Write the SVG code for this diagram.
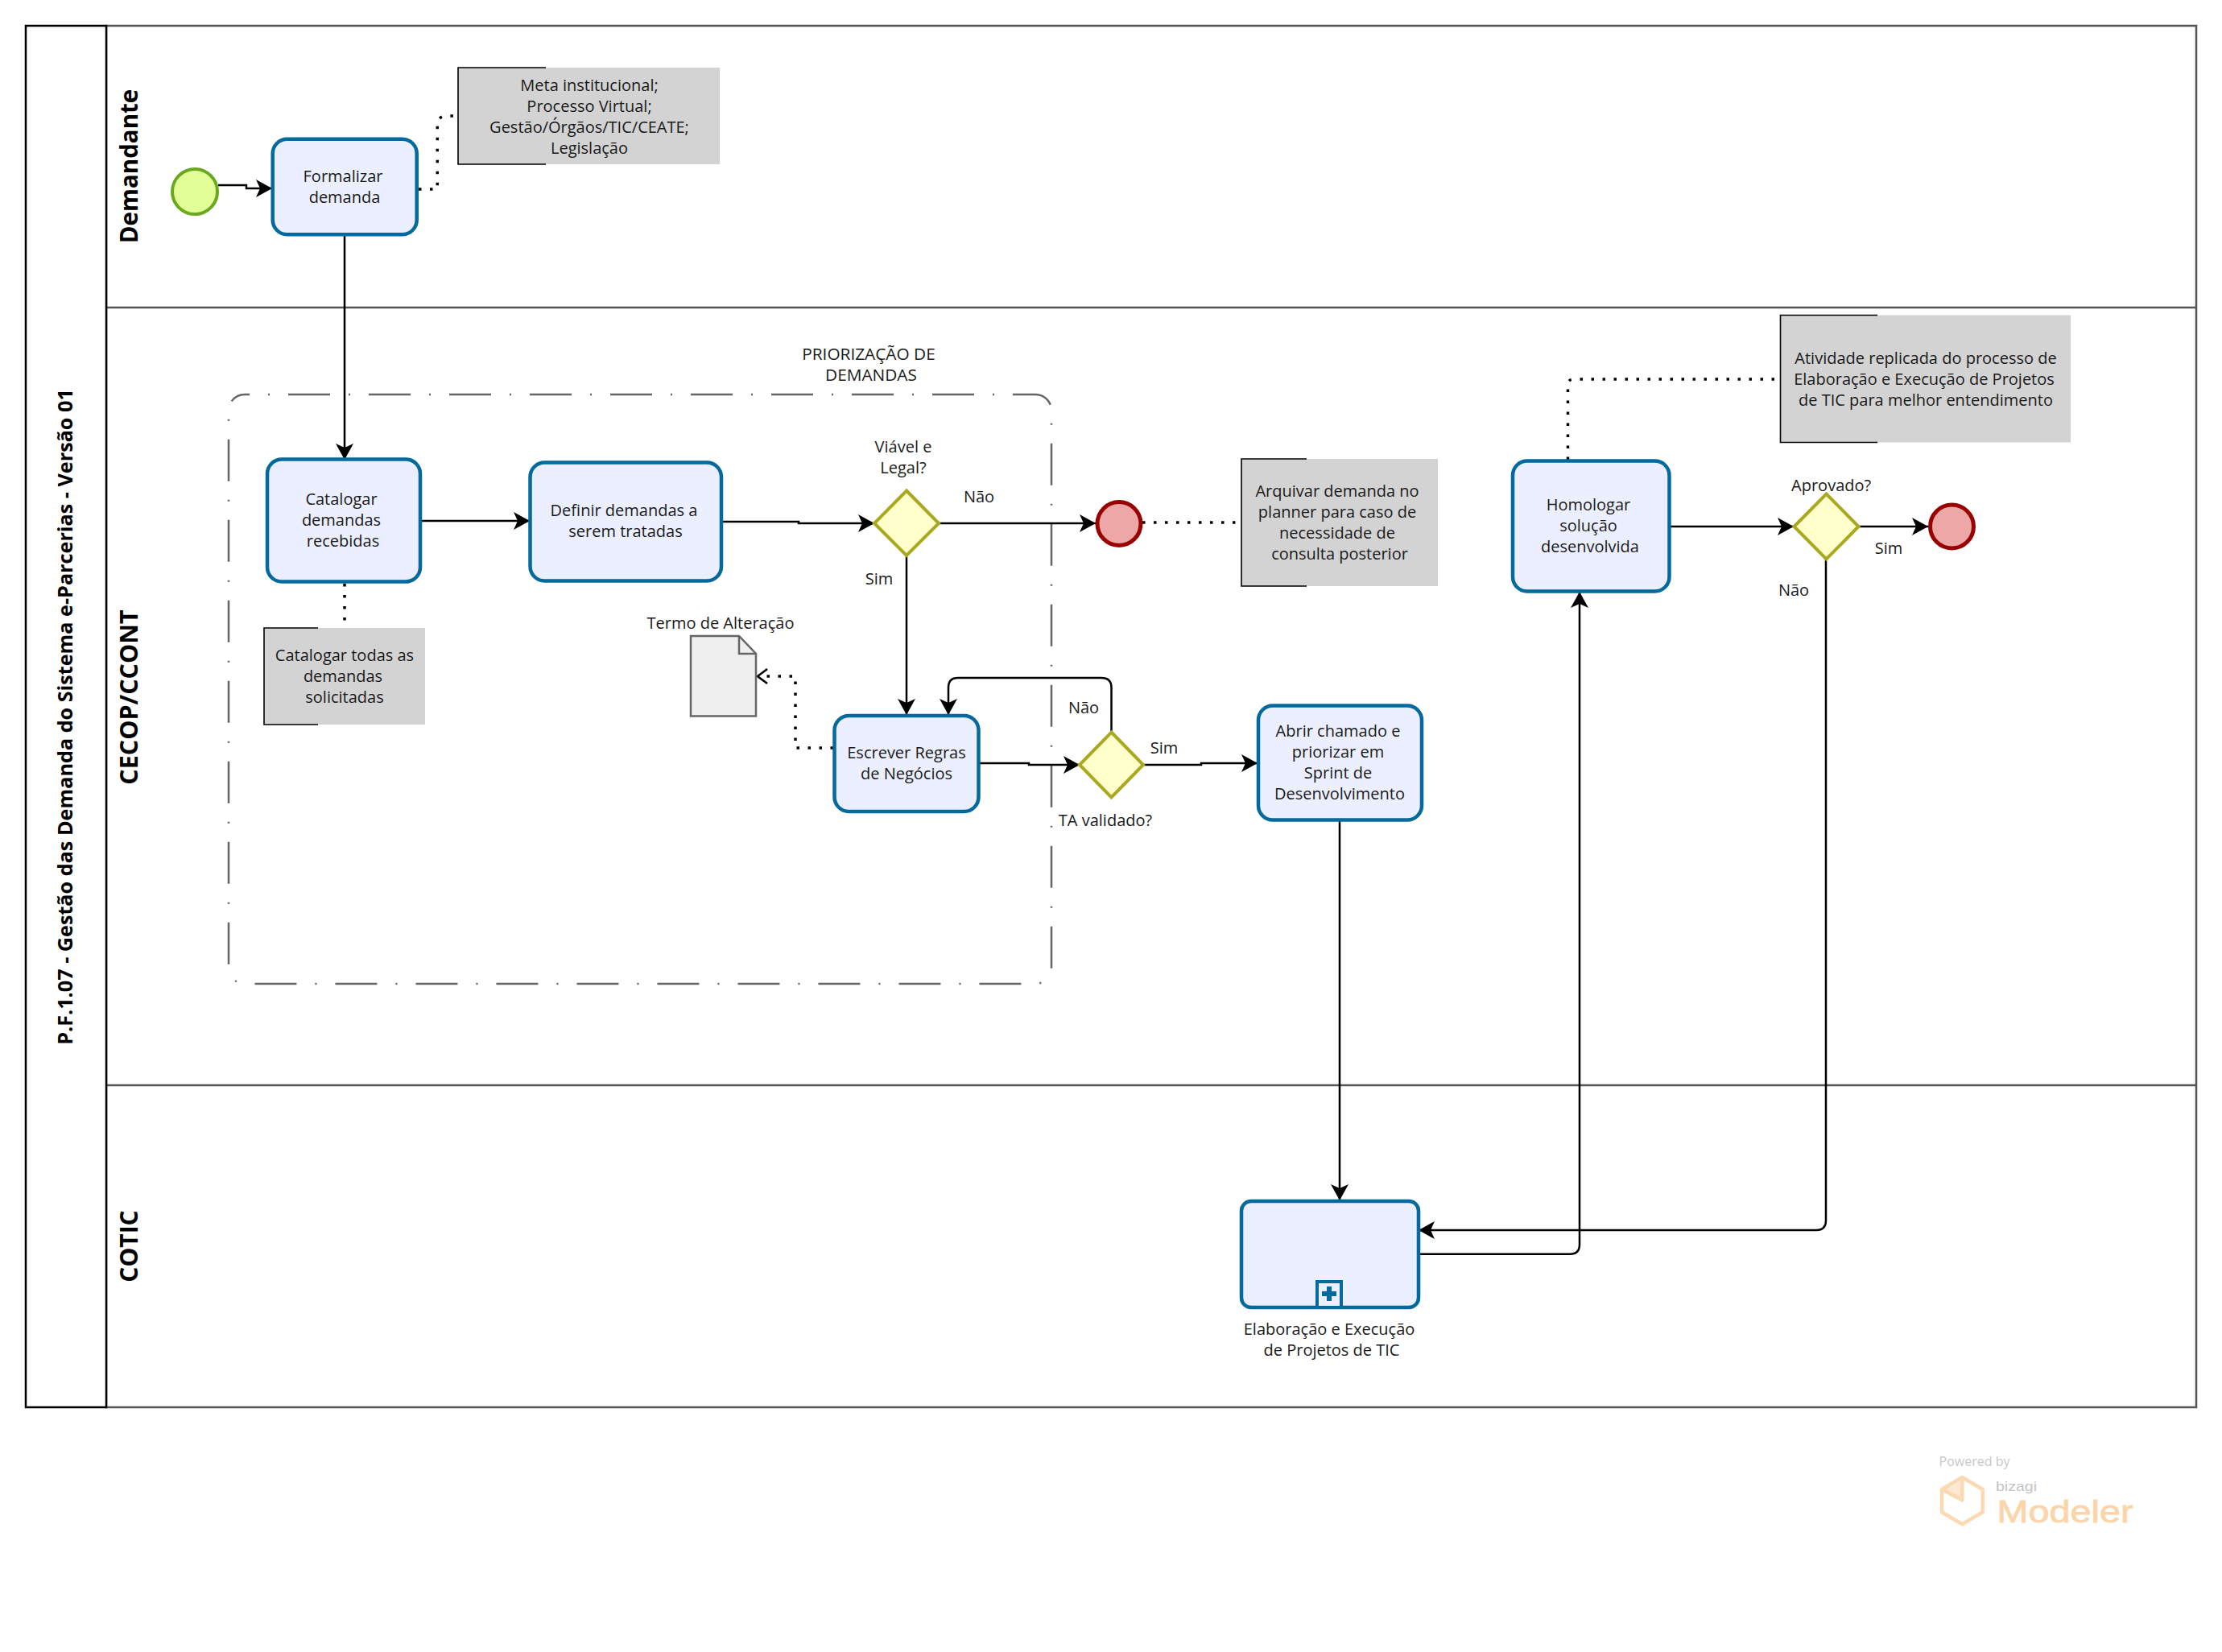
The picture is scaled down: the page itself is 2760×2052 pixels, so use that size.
<svg xmlns="http://www.w3.org/2000/svg" width="2760" height="2052" viewBox="0 0 2760 2052">
<style>
text{font-family:"Open Sans","Noto Sans","Liberation Sans",sans-serif;font-size:20px;fill:#1a1a1a;text-anchor:middle}
.b{font-weight:700;fill:#000}
.lane{font-size:30px}
.title{font-size:25.2px}
.task{fill:#ebefff;stroke:#04699d;stroke-width:4.5}
.gw{fill:#ffffcc;stroke:#a9a91f;stroke-width:4}
.end{fill:#eda7a7;stroke:#990000;stroke-width:5}
.note{fill:#d3d3d3}
.nb{stroke:#000;stroke-width:1.6;fill:none}
.c{fill:none;stroke:#000;stroke-width:2.5;marker-end:url(#arr)}
.d{fill:none;stroke:#000;stroke-width:3.5;stroke-dasharray:3.5 10.5}
.ln{fill:none;stroke:#555;stroke-width:2.5}
</style>
<defs>
<marker id="arr" markerUnits="userSpaceOnUse" markerWidth="22" markerHeight="26" refX="20" refY="13" orient="auto"><path d="M0,2 L20,13 L0,24 L5,13 Z" fill="#000"/></marker>
<marker id="open" markerUnits="userSpaceOnUse" markerWidth="16" markerHeight="24" refX="14" refY="12" orient="auto"><path d="M2,3 L14,12 L2,21" fill="none" stroke="#000" stroke-width="2.6"/></marker>
</defs>
<rect width="2760" height="2052" fill="#fff"/>
<g id="pool">
<rect x="132" y="32" width="2596" height="1716" class="ln"/>
<path d="M132,382 H2728 M132,1348 H2728" class="ln"/>
<rect x="32" y="32" width="100" height="1716" fill="#fff" stroke="#000" stroke-width="2.500"/>
<text class="b title" transform="translate(89.500 890.500) rotate(-90)">P.F.1.07 - Gestão das Demanda do Sistema e-Parcerias - Versão 01</text>
<text class="b lane" style="font-size:29.500px" transform="translate(171 206.500) rotate(-90)">Demandante</text>
<text class="b lane" style="font-size:30.500px" transform="translate(171 866) rotate(-90)">CECOP/CCONT</text>
<text class="b lane" transform="translate(171 1548) rotate(-90)">COTIC</text>
</g>
<g id="group-priorizacao">
<rect x="284" y="490" width="1022" height="732" rx="20" fill="none" stroke="#666" stroke-width="2.500" stroke-dasharray="52 23 2 23" stroke-dashoffset="-54"/>
<text x="1079" y="447" style="font-size:20.800px">PRIORIZAÇÃO DE</text>
<text x="1082" y="473" style="font-size:20.800px">DEMANDAS</text>
</g>
<g id="connectors">
<path class="c" d="M271,230 H306 V234 H338"/>
<path class="c" d="M428,293 V571"/>
<path class="c" d="M522,647 H658"/>
<path class="c" d="M897,648 H992 V650 H1086"/>
<path class="c" d="M1166,650 H1361"/>
<path class="c" d="M1126,690 V888"/>
<path class="c" d="M1216,948 H1278 V950 H1341"/>
<path class="c" d="M1420,950 H1492 V948 H1562"/>
<path class="c" d="M1380.500,909 V854 Q1380.500,842 1368,842 H1190 Q1178,842 1178,854 V888"/>
<path class="c" d="M1664,1019 V1491"/>
<path class="c" d="M1762,1557.700 H1950 Q1962,1557.700 1962,1546 V735"/>
<path class="c" d="M2074,654 H2228"/>
<path class="c" d="M2309,654 H2395"/>
<path class="c" d="M2268,695 V1516 Q2268,1528 2256,1528 H1762"/>
<path class="d" d="M520,235 H543.300 V155 Q543.300,144 555,144 H566"/>
<path class="d" d="M428,725 V775"/>
<path class="d" d="M1419,649 H1540"/>
<path class="d" d="M1947.500,571 V478 Q1947.500,471 1955,471 H2208"/>
<path class="d" style="marker-end:url(#open)" d="M1035,929 H988 V840 H941"/>
</g>
<g id="start"><circle cx="242" cy="238" r="28" fill="#e1ff96" stroke="#6aa81f" stroke-width="4"/></g>
<g id="formalizar"><rect class="task" x="338.700" y="172.700" width="179" height="118.600" rx="18"/><text x="426" y="226">Formalizar</text><text x="428" y="252">demanda</text></g>
<g id="note-meta"><rect class="note" x="569" y="84" width="325" height="120"/><path class="nb" d="M678,84 H569 V204 H678"/><text x="732" y="113">Meta institucional;</text><text x="732" y="139">Processo Virtual;</text><text x="732" y="165">Gestão/Órgãos/TIC/CEATE;</text><text x="732" y="191">Legislação</text></g>
<g id="catalogar"><rect class="task" x="332" y="570.500" width="190" height="152" rx="18"/><text x="424" y="627">Catalogar</text><text x="424" y="653">demandas</text><text x="426" y="679">recebidas</text></g>
<g id="note-catalogar"><rect class="note" x="328" y="780" width="200" height="120"/><path class="nb" d="M395,780 H328 V900 H395"/><text x="428" y="821">Catalogar todas as</text><text x="426" y="847">demandas</text><text x="428" y="873">solicitadas</text></g>
<g id="definir"><rect class="task" x="658.500" y="574.500" width="237.500" height="147" rx="18"/><text x="775" y="641">Definir demandas a</text><text x="777" y="667">serem tratadas</text></g>
<g id="gw-viavel"><polygon class="gw" points="1126,609.500 1166,650 1126,690 1086,650"/><text x="1122" y="562">Viável e</text><text x="1122" y="588">Legal?</text></g>
<text x="1216" y="624" id="lbl-nao1">Não</text>
<text x="1092" y="726" id="lbl-sim1">Sim</text>
<g id="end1"><circle class="end" cx="1390" cy="650.500" r="27"/></g>
<g id="note-arquivar"><rect class="note" x="1542" y="570" width="244" height="158"/><path class="nb" d="M1623,570 H1542 V728 H1623"/><text x="1661" y="617">Arquivar demanda no</text><text x="1661" y="643">planner para caso de</text><text x="1661" y="669">necessidade de</text><text x="1664" y="695">consulta posterior</text></g>
<g id="doc"><path d="M858,790 H918 L939,812 V889.500 H858 Z" fill="#efefef" stroke="#666" stroke-width="2.500"/><path d="M918,790 V812 H939" fill="none" stroke="#666" stroke-width="2.500"/><text x="895" y="781">Termo de Alteração</text></g>
<g id="escrever"><rect class="task" x="1036.500" y="889" width="179" height="119" rx="18"/><text x="1126" y="942">Escrever Regras</text><text x="1126" y="968">de Negócios</text></g>
<g id="gw-ta"><polygon class="gw" points="1380.500,909.500 1420,950 1380.500,990.500 1341,950"/><text x="1373" y="1026">TA validado?</text></g>
<text x="1346" y="886" id="lbl-nao2">Não</text>
<text x="1446" y="935.500" id="lbl-sim2">Sim</text>
<g id="abrir"><rect class="task" x="1563" y="876.500" width="203" height="142" rx="18"/><text x="1662" y="914.500">Abrir chamado e</text><text x="1662" y="940.500">priorizar em</text><text x="1662" y="966.500">Sprint de</text><text x="1664" y="992.500">Desenvolvimento</text></g>
<g id="homologar"><rect class="task" x="1879" y="572.500" width="194.500" height="162" rx="18"/><text x="1973" y="634">Homologar</text><text x="1973" y="660">solução</text><text x="1975" y="686">desenvolvida</text></g>
<g id="note-atividade"><rect class="note" x="2211.500" y="391.500" width="360.500" height="158"/><path class="nb" d="M2332,391.500 H2211.500 V549.500 H2332"/><text x="2392" y="451.500">Atividade replicada do processo de</text><text x="2390" y="477.500">Elaboração e Execução de Projetos</text><text x="2392" y="503.500">de TIC para melhor entendimento</text></g>
<g id="gw-aprovado"><polygon class="gw" points="2268.500,613.500 2308.500,654 2268.500,694.500 2228.500,654"/><text x="2274.600" y="610">Aprovado?</text></g>
<text x="2346" y="688" id="lbl-sim3">Sim</text>
<text x="2228" y="740" id="lbl-nao3">Não</text>
<g id="end2"><circle class="end" cx="2424.500" cy="654" r="27"/></g>
<g id="subprocesso"><rect class="task" x="1542" y="1492" width="220" height="132" rx="12"/><rect x="1636" y="1592" width="30" height="32" fill="#ebefff" stroke="#04699d" stroke-width="4"/><path d="M1651,1598 V1616 M1642,1607 H1660" stroke="#04699d" stroke-width="6"/><text x="1651" y="1658">Elaboração e Execução</text><text x="1654" y="1684">de Projetos de TIC</text></g>
<g id="logo">
<text x="2452.500" y="1820.500" style="font-size:16px;fill:#c8c8c8">Powered by</text>
<path d="M2437.300,1835 L2462.700,1850 V1878.300 L2437.300,1893.300 L2412,1878.300 V1850 Z M2412,1850 L2437.300,1863.300 V1835" fill="none" stroke="#fbd9b3" stroke-width="4.500" stroke-linejoin="round"/>
<path d="M2437.300,1837 L2414,1850 L2437.300,1862 Z" fill="#fbd9b3" opacity=".6"/>
<text x="2504.500" y="1851.500" textLength="51" lengthAdjust="spacingAndGlyphs" style="font-size:17px;fill:#c4c4c4;font-family:'Liberation Sans',sans-serif">bizagi</text>
<text x="2565" y="1890.700" textLength="169" lengthAdjust="spacingAndGlyphs" style="font-size:39px;fill:#fbd5aa;stroke:#fbd5aa;stroke-width:.8;font-family:'Liberation Sans',sans-serif">Modeler</text>
</g>
</svg>
